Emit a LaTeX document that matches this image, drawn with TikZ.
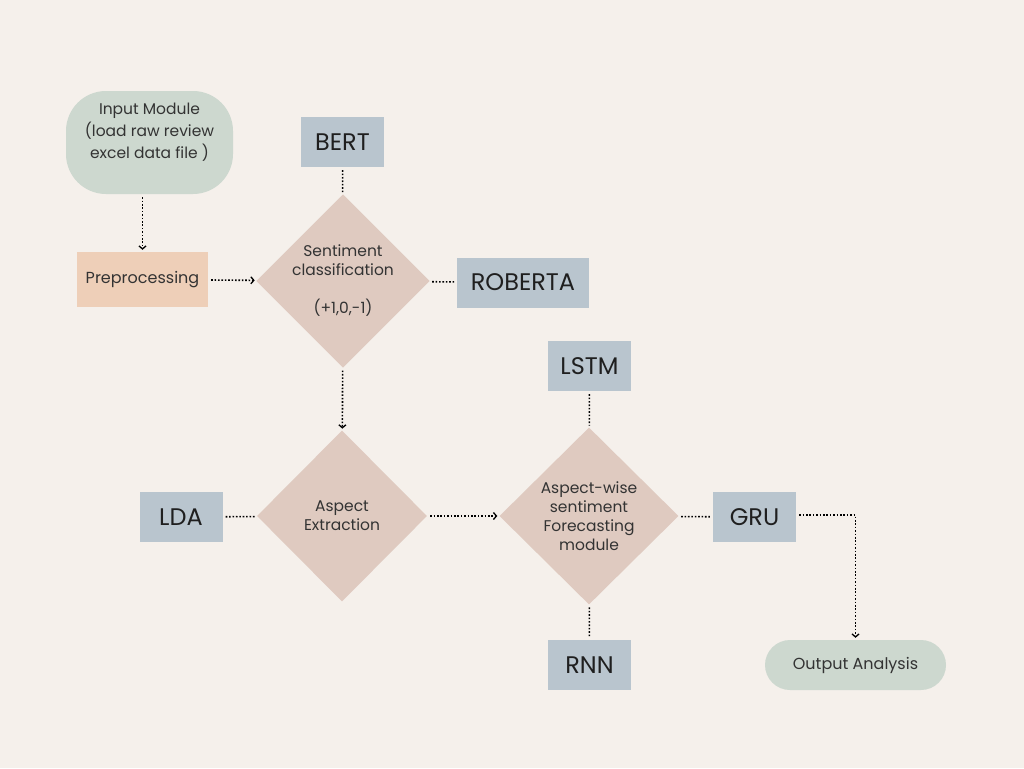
\documentclass[tikz,border=0pt]{standalone}
\usepackage{fontspec}
\setmainfont{Poppins}
\usetikzlibrary{arrows.meta,shapes.geometric,positioning}
\definecolor{hintergrund}{HTML}{F5F0EB}
\definecolor{salbei}{HTML}{CDD8CF}
\definecolor{pfirsich}{HTML}{EECFB8}
\definecolor{schiefer}{HTML}{B9C5CE}
\definecolor{rose}{HTML}{DFCAC0}

\tikzset{
	>={Straight Barb[length=3pt,width=7pt,line width=1.3pt]},
	model/.style={fill=schiefer,minimum width=83pt,minimum height=50pt,inner sep=0pt,
		font=\fontsize{24}{28}\selectfont,text=black!88},
	decision/.style={diamond,fill=rose,minimum width=172pt,minimum height=172pt,inner sep=0pt,
		align=center,font=\fontsize{15.5}{19}\selectfont,text=black!80},
	terminal/.style={fill=salbei,align=center,text=black!80},
	link/.style={line width=1.6pt,dash pattern=on 1.6pt off 1.8pt,shorten <=3pt,shorten >=2pt},
	flow/.style={link,->}
}

\begin{document}
\begin{tikzpicture}[x=1pt,y=-1pt]
\fill[hintergrund] (0,0) rectangle (1024,768);
\useasboundingbox (0,0) rectangle (1024,768);

\node[terminal,rounded corners=40pt,minimum width=167pt,minimum height=103pt,
	font=\fontsize{15.5}{22}\selectfont] (input) at (149.5,142.5)
	{Input Module\\(load raw review\\excel data file )\\[2pt]};
\node[fill=pfirsich,minimum width=131pt,minimum height=55pt,text=black!80,
	font=\fontsize{16}{19}\selectfont] (pre) at (142.5,279.5) {Preprocessing};

\node[model] (bert) at (342.5,142) {BERT};
\node[decision] (senti) at (343,281) {Sentiment\\classification\\[19pt](+1,0,-1)};
\node[model,minimum width=132pt] (roberta) at (523,282.5) {ROBERTA};

\node[model] (lstm) at (589.5,366) {LSTM};
\node[decision,minimum width=170pt,minimum height=171pt] (aspect) at (342,516) {Aspect\\Extraction};
\node[model] (lda) at (181,517) {LDA};
\node[decision,minimum width=179pt,minimum height=177pt] (forecast) at (589,516)
	{Aspect-wise\\sentiment\\Forecasting\\module};
\node[model] (gru) at (754.5,517) {GRU};
\node[model] (rnn) at (589.5,665) {RNN};
\node[terminal,rounded corners=25pt,minimum width=181pt,minimum height=50pt,
	font=\fontsize{16}{19}\selectfont] (output) at (855.5,665) {Output Analysis};

\draw[flow] (pre |- input.south) -- (pre.north);
\draw[flow] (pre) -- (senti);
\draw[link] (bert) -- (senti);
\draw[link] (senti) -- (roberta);
\draw[flow] (senti) -- (aspect);
\draw[link] (lda) -- (aspect);
\draw[flow] (aspect) -- (forecast);
\draw[link] (lstm) -- (forecast);
\draw[link] (forecast) -- (gru);
\draw[link] (forecast) -- (rnn);
\draw[flow] ([yshift=2pt]gru.east) -| (output.north);
\end{tikzpicture}
\end{document}
